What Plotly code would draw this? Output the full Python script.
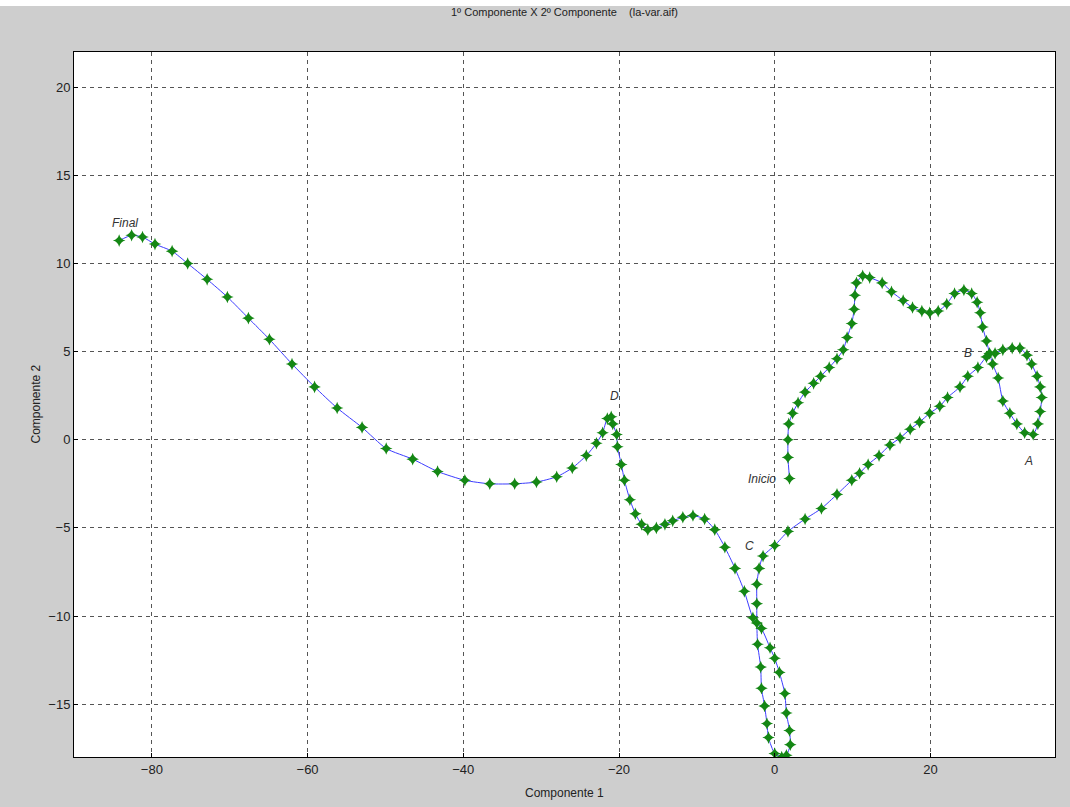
import plotly.graph_objects as go

# Trajectory (Inicio -> Final)
comp1 = [1.9, 1.7, 1.7, 1.8, 2.3, 3.0, 3.9, 5.0, 5.9, 7.0, 8.0, 8.8, 9.3, 9.9, 10.2, 10.3, 10.5,
         11.3, 12.2, 13.8, 15.0, 16.5, 17.7, 18.9, 19.9, 21.0, 22.1, 23.1, 24.3, 25.3, 26.0, 26.4,
         26.7, 27.2, 27.6, 28.0, 28.7, 29.3, 30.2, 31.1, 32.1, 33.2, 33.8, 34.1, 34.3, 34.1, 33.7,
         33.0, 32.4, 31.5, 30.5, 29.3, 28.3, 27.2, 26.1, 24.8, 23.8, 22.2, 21.2, 19.9, 18.6, 17.4,
         16.1, 14.8, 13.4, 12.0, 10.9, 9.9, 8.0, 6.0, 3.9, 1.7, 0.0, -1.5, -2.0, -2.3, -2.3, -2.3,
         -2.2, -1.8, -1.7, -1.3, -1.0, -0.8, 0.0, 0.9, 1.5, 2.0, 1.9, 1.5, 1.3, 0.6, 0.0, -0.6,
         -1.7, -2.8, -3.9, -5.1, -6.4, -7.7, -9.0, -10.5, -11.8, -13.1, -14.1, -15.2, -16.3, -17.1,
         -17.9, -18.6, -19.3, -19.7, -20.2, -20.3, -20.8, -21.0, -21.5, -22.1, -22.9, -24.2, -26.0,
         -28.0, -30.6, -33.4, -36.6, -39.8, -43.3, -46.5, -49.9, -53.0, -56.2, -59.1, -62.0, -64.9,
         -67.6, -70.3, -72.9, -75.4, -77.4, -79.6, -81.2, -82.6, -84.2]
comp2 = [-2.2, -1.0, 0.0, 0.9, 1.5, 2.1, 2.7, 3.2, 3.6, 4.1, 4.6, 5.1, 5.8, 6.6, 7.4, 8.2, 8.9,
         9.3, 9.2, 8.9, 8.4, 7.9, 7.5, 7.3, 7.2, 7.3, 7.7, 8.3, 8.5, 8.3, 7.8, 7.2,
         6.4, 5.6, 4.9, 4.3, 3.5, 2.2, 1.5, 0.9, 0.4, 0.3, 0.9, 1.6, 2.4, 3.0, 3.6,
         4.3, 4.8, 5.2, 5.2, 5.1, 4.9, 4.7, 4.1, 3.6, 3.0, 2.4, 1.9, 1.5, 1.0, 0.6,
         0.1, -0.3, -0.9, -1.4, -1.9, -2.3, -3.1, -3.9, -4.5, -5.2, -6.0, -6.6, -7.3, -8.2, -9.3, -10.4,
         -11.6, -12.9, -14.1, -15.1, -16.1, -16.9, -17.8, -18.0, -17.9, -17.3, -16.5, -15.5, -14.4, -13.2, -12.4, -11.8,
         -10.7, -10.1, -8.6, -7.3, -6.1, -5.1, -4.5, -4.3, -4.4, -4.6, -4.8, -5.0, -5.1, -4.8,
         -4.2, -3.4, -2.3, -1.4, -0.4, 0.3, 0.9, 1.3, 1.2, 0.4, -0.2, -0.9, -1.6,
         -2.1, -2.4, -2.5, -2.5, -2.3, -1.8, -1.1, -0.5, 0.7, 1.8, 3.0, 4.3, 5.7,
         6.9, 8.1, 9.1, 10.0, 10.7, 11.1, 11.5, 11.6, 11.3]

# Point labels
label_text = ["Final", "D", "Inicio", "C", "B", "A"]
label_x = [-83.5, -20.6, 0.4, -3.2, 24.8, 32.6]
label_y = [12.3, 2.5, -2.2, -6.0, 4.9, -1.2]
label_anchor = ["center", "center", "right", "center", "center", "center"]

x_ticks = [-80, -60, -40, -20, 0, 20]
y_ticks = [-15, -10, -5, 0, 5, 10, 15, 20]

title_text = "1º Componente X 2º Componente &nbsp; &nbsp;(la-var.aif)"
x_title = "Componente 1"
y_title = "Componente 2"

FONT = "Liberation Sans, Arial, sans-serif"

fig = go.Figure()
fig.add_trace(go.Scatter(
    x=comp1, y=comp2, mode="lines+markers",
    line=dict(color="rgb(60,60,255)", width=1, shape="spline", smoothing=0.6),
    marker=dict(symbol="star-diamond", size=9, color="rgb(20,135,20)",
                line=dict(width=0)),
    showlegend=False, hoverinfo="x+y",
))

for t, x, y, a in zip(label_text, label_x, label_y, label_anchor):
    fig.add_annotation(x=x, y=y, text="<i>" + t + "</i>", showarrow=False,
                       xanchor=a, yanchor="middle",
                       font=dict(family=FONT, size=12, color="#333333"))

axis_common = dict(
    showgrid=True, gridcolor="#555555", gridwidth=1, griddash="4px,4px",
    zeroline=False, showline=True, linecolor="black", linewidth=1, mirror=True,
    ticks="inside", ticklen=4, tickcolor="black",
    tickfont=dict(family=FONT, size=13, color="#222222"),
)

fig.update_xaxes(range=[-90, 36], tickvals=x_ticks, **axis_common)
fig.update_yaxes(range=[-18, 22], tickvals=y_ticks, **axis_common)

# titles
fig.add_annotation(xref="paper", yref="paper", x=0.5, y=1, yshift=40, text=title_text,
                   showarrow=False, xanchor="center", yanchor="middle",
                   font=dict(family=FONT, size=11, color="#222222"))
fig.add_annotation(xref="paper", yref="paper", x=0.5, y=0, yshift=-36, text=x_title,
                   showarrow=False, xanchor="center", yanchor="middle",
                   font=dict(family=FONT, size=12, color="#222222"))
fig.add_annotation(xref="paper", yref="paper", x=0, y=0.5, xshift=-39, text=y_title,
                   showarrow=False, xanchor="center", yanchor="middle", textangle=-90,
                   font=dict(family=FONT, size=12, color="#222222"))

# thin white strip at the top of the window
fig.add_shape(type="rect", xref="paper", yref="paper", x0=-0.2, x1=1.2,
              y0=1 + 46 / 705, y1=1 + 60 / 705, fillcolor="white", line=dict(width=0),
              layer="below")

fig.update_layout(
    width=1070, height=807,
    margin=dict(l=74, r=15, t=52, b=50),
    paper_bgcolor="rgb(206,206,206)", plot_bgcolor="white",
)

fig.write_html("out.html", config={"displayModeBar": False},
               post_script="document.body.style.margin='0';document.body.style.overflow='hidden';")
